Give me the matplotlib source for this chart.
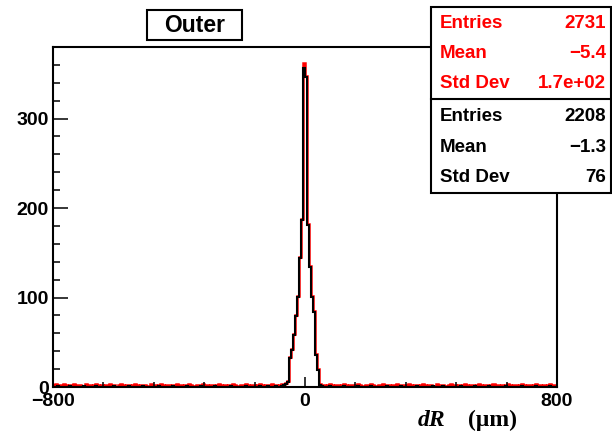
import matplotlib.pyplot as plt
from matplotlib.patches import Rectangle
from matplotlib.ticker import MultipleLocator
import numpy as np

plt.rcParams['font.family'] = ['Liberation Sans', 'DejaVu Sans']

# 250 bins of 6.4 um between -800 and 800
x_min, x_max, n_bins = -800, 800, 250

black_left = [0, 0, 1, 0, 0, 0, 0, 0, 1, 0, 0, 0, 0, 0, 0, 1, 0, 0, 0, 0,
              0, 1, 0, 0, 0, 0, 0, 0, 0, 0, 1, 0, 0, 0, 0, 0, 0, 1, 0, 0,
              0, 0, 0, 0, 1, 0, 0, 0, 0, 0, 0, 0, 1, 0, 0, 0, 0, 0, 0, 1,
              0, 0, 0, 0, 0, 0, 1, 0, 0, 0, 0, 0, 0, 1, 0, 0, 0, 0, 0, 0,
              1, 0, 0, 0, 0, 0, 0, 0, 1, 0, 0, 0, 0, 0, 0, 1, 0, 0, 0, 0,
              0, 0, 1, 0, 0, 0, 1, 0, 0, 0, 1, 0, 0, 1, 2, 3]
black_peak = [6, 32, 41, 58, 79, 101, 144, 187, 356, 347, 181, 134, 101, 84, 36, 19]
black_right = [2, 1, 0, 0, 0, 1, 0, 0, 0, 0, 0, 0, 1, 0, 0, 0, 0, 0, 0, 1,
               0, 0, 0, 0, 0, 1, 0, 0, 0, 0, 0, 0, 0, 1, 0, 0, 0, 0, 0, 0,
               1, 0, 0, 0, 0, 0, 0, 0, 1, 0, 0, 0, 0, 0, 0, 0, 1, 0, 0, 0,
               0, 1, 0, 0, 0, 0, 0, 0, 0, 0, 1, 0, 0, 0, 0, 0, 0, 1, 0, 0,
               0, 0, 0, 0, 1, 0, 0, 0, 0, 0, 0, 0, 1, 0, 0, 0, 0, 0, 0, 0,
               1, 0, 0, 0, 0, 0, 0, 1, 0, 0, 0, 0, 0, 0, 1, 0, 0, 0]

red_left = [2, 3, 2, 2, 1, 3, 2, 0, 2, 2, 3, 1, 2, 2, 0, 1, 3, 2, 2, 1,
            2, 3, 2, 0, 2, 1, 2, 2, 3, 1, 2, 0, 2, 3, 2, 1, 2, 2, 0, 2,
            3, 2, 1, 2, 2, 2, 0, 1, 3, 2, 2, 1, 2, 3, 2, 0, 2, 2, 1, 2,
            2, 3, 0, 2, 1, 2, 2, 3, 2, 1, 0, 2, 2, 1, 3, 2, 2, 0, 2, 2,
            1, 2, 3, 2, 0, 2, 1, 2, 2, 3, 2, 1, 0, 2, 2, 3, 2, 1, 2, 2,
            0, 2, 3, 2, 1, 2, 2, 0, 3, 2, 2, 1, 2, 3, 3, 4]
red_peak = [7, 33, 42, 59, 80, 102, 145, 188, 362, 348, 182, 135, 102, 85, 37, 20]
red_right = [3, 2, 2, 1, 2, 3, 2, 0, 2, 2, 1, 2, 3, 2, 0, 2, 2, 1, 2, 3,
             2, 0, 1, 2, 2, 3, 2, 1, 0, 2, 2, 3, 1, 2, 2, 0, 2, 2, 3, 1,
             2, 2, 0, 2, 3, 2, 1, 2, 2, 0, 2, 3, 2, 1, 2, 2, 0, 1, 3, 2,
             2, 2, 1, 0, 2, 3, 2, 2, 1, 2, 0, 2, 3, 2, 1, 2, 2, 0, 2, 3,
             2, 1, 2, 2, 0, 2, 3, 2, 2, 1, 2, 0, 2, 3, 2, 1, 2, 2, 0, 2,
             3, 2, 1, 2, 2, 0, 2, 3, 2, 2, 1, 2, 0, 2, 3, 2, 2, 1]

red_stats = [("Entries", "2731"), ("Mean", "\u22125.4"), ("Std Dev", "1.7e+02")]
black_stats = [("Entries", "2208"), ("Mean", "\u22121.3"), ("Std Dev", "76")]
title = "Outer"

black_counts = np.array(black_left + black_peak + black_right)
red_counts = np.array(red_left + red_peak + red_right)
edges = np.linspace(x_min, x_max, n_bins + 1)

W, H = 612, 432
fig = plt.figure(figsize=(W / 100, H / 100), dpi=100)


def fx(x):
    return x / W


def fy(y):
    return 1 - y / H


ax = fig.add_axes([fx(53), fy(387), (557 - 53) / W, (387 - 47) / H])
ax.stairs(red_counts, edges, color='red', lw=1.8)
ax.stairs(black_counts, edges, color='black', lw=1.5)
ax.set_xlim(x_min, x_max)
ax.set_ylim(0, 380)

ax.xaxis.set_major_locator(MultipleLocator(800))
ax.xaxis.set_minor_locator(MultipleLocator(160))
ax.yaxis.set_major_locator(MultipleLocator(100))
ax.yaxis.set_minor_locator(MultipleLocator(20))
ax.tick_params(axis='x', which='major', direction='in', length=7, width=1.1, pad=4)
ax.tick_params(axis='x', which='minor', direction='in', length=3.6, width=1.1)
ax.tick_params(axis='y', which='major', direction='in', length=10.8, width=1.1, pad=3)
ax.tick_params(axis='y', which='minor', direction='in', length=5, width=1.1)
ax.tick_params(top=False, right=False, which='both', labelsize=14)
for lab in ax.get_xticklabels() + ax.get_yticklabels():
    lab.set_fontweight('bold')
for sp in ax.spines.values():
    sp.set_linewidth(1.5)

# axis title
fig.text(fx(445), fy(420), "dR", family='Liberation Serif', style='italic',
         weight='bold', fontsize=17, ha='right', va='center')
fig.text(fx(468), fy(420), "(\u03bcm)", family='Liberation Serif',
         weight='bold', fontsize=17, ha='left', va='center')

# title box
fig.patches.append(Rectangle((fx(147), fy(40)), (242 - 147) / W, 30 / H,
                             transform=fig.transFigure, facecolor='white',
                             edgecolor='black', lw=1.5))
fig.text(fx(194.5), fy(25), title, fontsize=16.5, weight='bold', ha='center', va='center')

# stats boxes
fig.patches.append(Rectangle((fx(431), fy(193)), (611 - 431) / W, (193 - 7) / H,
                             transform=fig.transFigure, facecolor='white',
                             edgecolor='black', lw=1.5, zorder=5))
fig.add_artist(plt.Line2D([fx(431), fx(611)], [fy(99), fy(99)],
                          transform=fig.transFigure, color='black', lw=1.5, zorder=6))
rows_y = [23, 54, 84, 116, 147, 178]
for (name, val), yy, col in zip(red_stats + black_stats, rows_y,
                                ['red'] * 3 + ['black'] * 3):
    fig.text(fx(440), fy(yy), name, color=col, fontsize=13.5, weight='bold',
             ha='left', va='center', zorder=7)
    fig.text(fx(606), fy(yy), val, color=col, fontsize=13.5, weight='bold',
             ha='right', va='center', zorder=7)

fig.savefig("out.png", dpi=100)
